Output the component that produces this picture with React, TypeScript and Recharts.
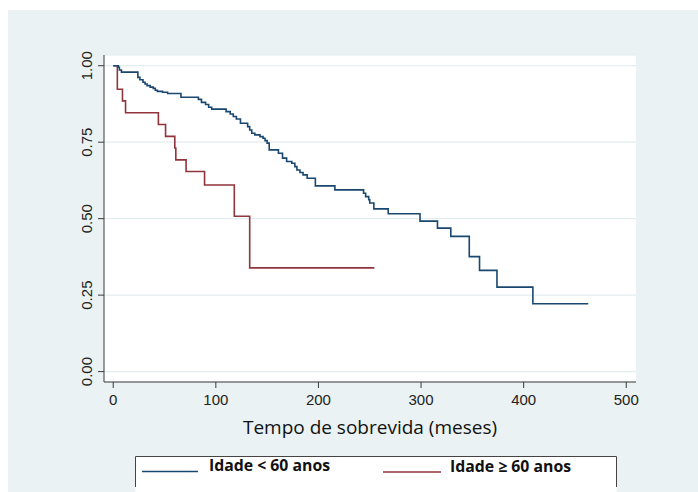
import React from 'react';
import { LineChart, Line, XAxis, YAxis, CartesianGrid } from 'recharts';

// Kaplan-Meier estimates: [time (months), survival]
const youngTimes = [0, 5, 6, 8, 24, 26, 29, 31, 33, 36, 39, 41, 43, 48, 53, 66, 83, 86, 90, 93, 96, 110, 114, 117, 120, 124, 131, 133, 135, 138, 143, 146, 148, 150, 152, 161, 165, 169, 174, 177, 179, 182, 185, 189, 197, 216, 244, 246, 249, 250, 254, 268, 299, 316, 329, 347, 357, 374, 409, 463];
const youngSurv = [1, 0.995, 0.986, 0.979, 0.962, 0.954, 0.946, 0.94, 0.935, 0.93, 0.926, 0.92, 0.916, 0.913, 0.909, 0.897, 0.89, 0.88, 0.873, 0.864, 0.858, 0.85, 0.842, 0.834, 0.826, 0.812, 0.801, 0.79, 0.779, 0.774, 0.768, 0.763, 0.755, 0.747, 0.725, 0.714, 0.698, 0.687, 0.681, 0.67, 0.659, 0.651, 0.643, 0.632, 0.607, 0.594, 0.583, 0.572, 0.562, 0.551, 0.532, 0.516, 0.492, 0.469, 0.442, 0.376, 0.331, 0.276, 0.222, 0.222];

const oldTimes = [0, 4, 9, 12, 44, 51, 60, 61, 71, 89, 118, 133, 254.5];
const oldSurv = [1, 0.923, 0.885, 0.846, 0.808, 0.769, 0.731, 0.692, 0.654, 0.61, 0.508, 0.339, 0.339];

const xTicks = [0, 100, 200, 300, 400, 500];
const yTicks = [0, 0.25, 0.5, 0.75, 1];

const xTitle = 'Tempo de sobrevida (meses)';
const legendYoung = 'Idade < 60 anos';
const legendOld = 'Idade ≥ 60 anos';

const youngData = youngTimes.map((t, i) => ({ t, s: youngSurv[i] }));
const oldData = oldTimes.map((t, i) => ({ t, s: oldSurv[i] }));

const BLUE = '#1A476F';
const RED = '#90353B';
const BG = '#EAF2F3';
const AXIS = '#3a3a3a';
const FONT = '"Liberation Sans", Arial, sans-serif';

const YTick = (props: any) => {
  const { x, y, payload } = props;
  return (
    <text
      x={0}
      y={0}
      transform={`translate(${x - 4},${y}) rotate(-90)`}
      textAnchor="middle"
      fontSize={15}
      fill="#222"
      fontFamily={FONT}
    >
      {Number(payload.value).toFixed(2)}
    </text>
  );
};

const XTick = (props: any) => {
  const { x, y, payload } = props;
  return (
    <text x={x} y={y + 15} textAnchor="middle" fontSize={15} fill="#222" fontFamily={FONT}>
      {payload.value}
    </text>
  );
};

export default function App() {
  return (
    <div style={{ position: 'absolute', left: 0, top: 0, width: 698, height: 492, background: '#fff', overflow: 'hidden' }}>
      <div style={{ position: 'absolute', left: 8, top: 10, right: 0, bottom: 0, background: BG }} />
      <div style={{ position: 'absolute', left: 0, top: 0 }}>
        <LineChart width={698} height={492} margin={{ top: 55, right: 62, bottom: 80, left: 44 }}>
          <CartesianGrid vertical={false} stroke="#E3ECEE" strokeWidth={1.2} fill="#ffffff" />
          <XAxis
            type="number"
            dataKey="t"
            domain={[-9, 509.5]}
            ticks={xTicks}
            allowDataOverflow
            height={30}
            tickSize={6}
            stroke={AXIS}
            tickLine={{ stroke: AXIS }}
            tick={<XTick />}
          />
          <YAxis
            type="number"
            dataKey="s"
            domain={[-0.034, 1.035]}
            ticks={yTicks}
            allowDataOverflow
            width={60}
            tickSize={6}
            stroke={AXIS}
            tickLine={{ stroke: AXIS }}
            tick={<YTick />}
          />
          <Line data={oldData} dataKey="s" type="stepAfter" stroke={RED} strokeWidth={1.6} dot={false} isAnimationActive={false} />
          <Line data={youngData} dataKey="s" type="stepAfter" stroke={BLUE} strokeWidth={1.6} dot={false} isAnimationActive={false} />
        </LineChart>
      </div>
      <svg width={698} height={492} style={{ position: 'absolute', left: 0, top: 0 }}>
        <text x={370} y={434} textAnchor="middle" fontSize={19} fill="#111" fontFamily='"Open Sans", sans-serif'>
          {xTitle}
        </text>
        <rect x={135.5} y={456.5} width={481} height={40} fill="#fff" />
        <path d="M135.5,487 V456.5 H616.5 V487" fill="none" stroke="#444" strokeWidth={1} />
        <line x1={142} y1={471.5} x2={198} y2={471.5} stroke={BLUE} strokeWidth={1.6} />
        <line x1={383} y1={472} x2={441} y2={472} stroke={RED} strokeWidth={1.6} />
        <text x={209} y={471} fontSize={15.8} fontWeight="bold" fill="#111" fontFamily='"Open Sans", sans-serif'>
          {legendYoung}
        </text>
        <text x={450} y={472} fontSize={15.8} fontWeight="bold" fill="#111" fontFamily='"Open Sans", sans-serif'>
          {legendOld}
        </text>
      </svg>
    </div>
  );
}
